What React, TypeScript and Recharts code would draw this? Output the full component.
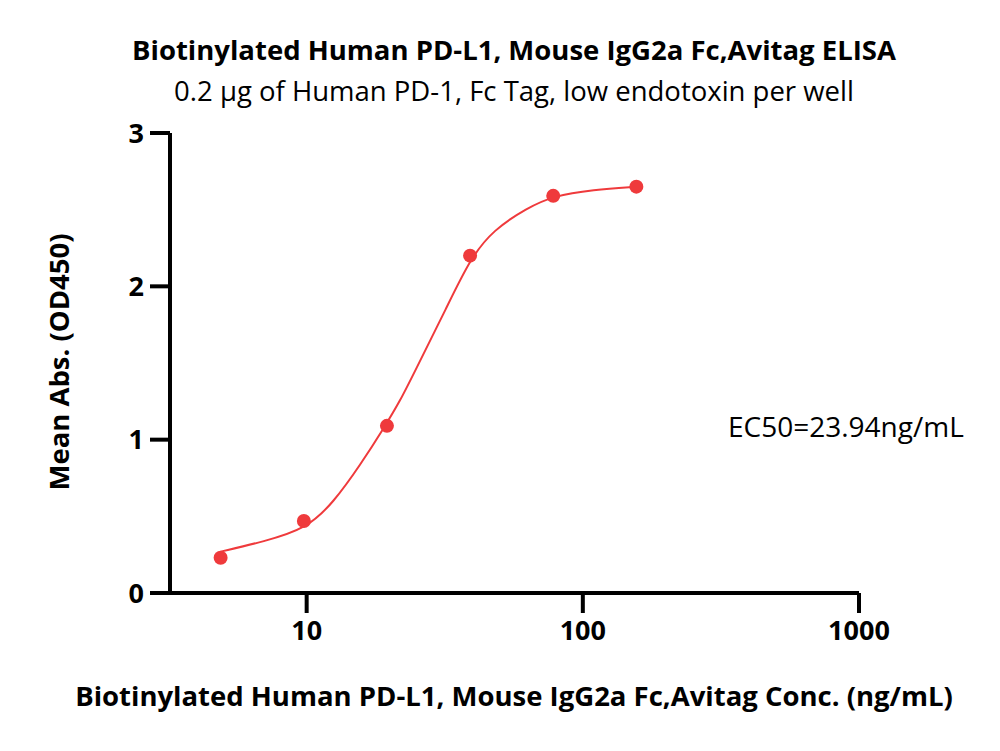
import React from 'react';
import { ComposedChart, Line, Scatter, XAxis, YAxis } from 'recharts';

// measured concentrations (ng/mL) and mean OD450
const concentrations = [4.88, 9.77, 19.53, 39.06, 78.13, 156.25];
const meanAbs = [0.23, 0.47, 1.09, 2.2, 2.59, 2.65];

// fitted curve
const fitConc = [4.88, 7, 10, 12.5, 15.7, 19.1, 21.9, 24.4, 32.3, 39.1, 47.5, 62.8, 78.1, 109, 156.25];
const fitAbs = [0.27, 0.335, 0.42, 0.59, 0.84, 1.08, 1.26, 1.43, 1.87, 2.18, 2.37, 2.51, 2.59, 2.63, 2.65];

const xTicks = [10, 100, 1000];
const yTicks = [0, 1, 2, 3];

const points = concentrations.map((x, i) => ({ x, y: meanAbs[i] }));
const curve = fitConc.map((x, i) => ({ x, y: fitAbs[i] }));

const RED = '#ef3a3c';
const FONT = '"Open Sans", Lato, sans-serif';

const Dot = (props: any) => <circle cx={props.cx} cy={props.cy} r={7} fill={RED} />;

export default function App() {
    return (
        <div style={{ position: 'absolute', left: 0, top: 0, width: 1000, height: 751, background: '#fff', fontFamily: FONT }}>
            <div style={{ position: 'absolute', top: 31, width: 1000, left: 14, textAlign: 'center', fontSize: 27.5, fontWeight: 700 }}>
                Biotinylated Human PD-L1, Mouse IgG2a Fc,Avitag ELISA
            </div>
            <div style={{ position: 'absolute', top: 72, width: 1000, left: 14, textAlign: 'center', fontSize: 27.5 }}>
                0.2 μg of Human PD-1, Fc Tag, low endotoxin per well
            </div>
            <div style={{ position: 'absolute', left: 728, top: 407, fontSize: 28 }}>EC50=23.94ng/mL</div>
            <div style={{ position: 'absolute', top: 677, width: 1000, left: 14, textAlign: 'center', fontSize: 27.5, fontWeight: 700 }}>
                Biotinylated Human PD-L1, Mouse IgG2a Fc,Avitag Conc. (ng/mL)
            </div>
            <div
                style={{
                    position: 'absolute', left: 58, top: 362, fontSize: 27.5, fontWeight: 700, whiteSpace: 'nowrap',
                    transform: 'translate(-50%, -50%) rotate(-90deg)',
                }}
            >
                Mean Abs. (OD450)
            </div>
            <ComposedChart width={1000} height={751} margin={{ top: 133, right: 141, bottom: 108, left: 130 }}>
                <XAxis
                    type="number"
                    dataKey="x"
                    scale="log"
                    domain={[3.2, 1000]}
                    allowDataOverflow
                    ticks={xTicks}
                    height={50}
                    tickSize={20}
                    tickMargin={8}
                    axisLine={{ stroke: '#000', strokeWidth: 4 }}
                    tickLine={{ stroke: '#000', strokeWidth: 4 }}
                    tick={{ fill: '#000', fontSize: 27, fontWeight: 700, fontFamily: FONT }}
                />
                <YAxis
                    type="number"
                    dataKey="y"
                    domain={[0, 3]}
                    ticks={yTicks}
                    width={40}
                    tickSize={20}
                    tickMargin={6}
                    axisLine={{ stroke: '#000', strokeWidth: 4 }}
                    tickLine={{ stroke: '#000', strokeWidth: 4 }}
                    tick={{ fill: '#000', fontSize: 27, fontWeight: 700, fontFamily: FONT }}
                />
                <Line data={curve} dataKey="y" type="basis" stroke={RED} strokeWidth={2} dot={false} isAnimationActive={false} />
                <Scatter data={points} dataKey="y" shape={Dot} isAnimationActive={false} />
            </ComposedChart>
        </div>
    );
}
